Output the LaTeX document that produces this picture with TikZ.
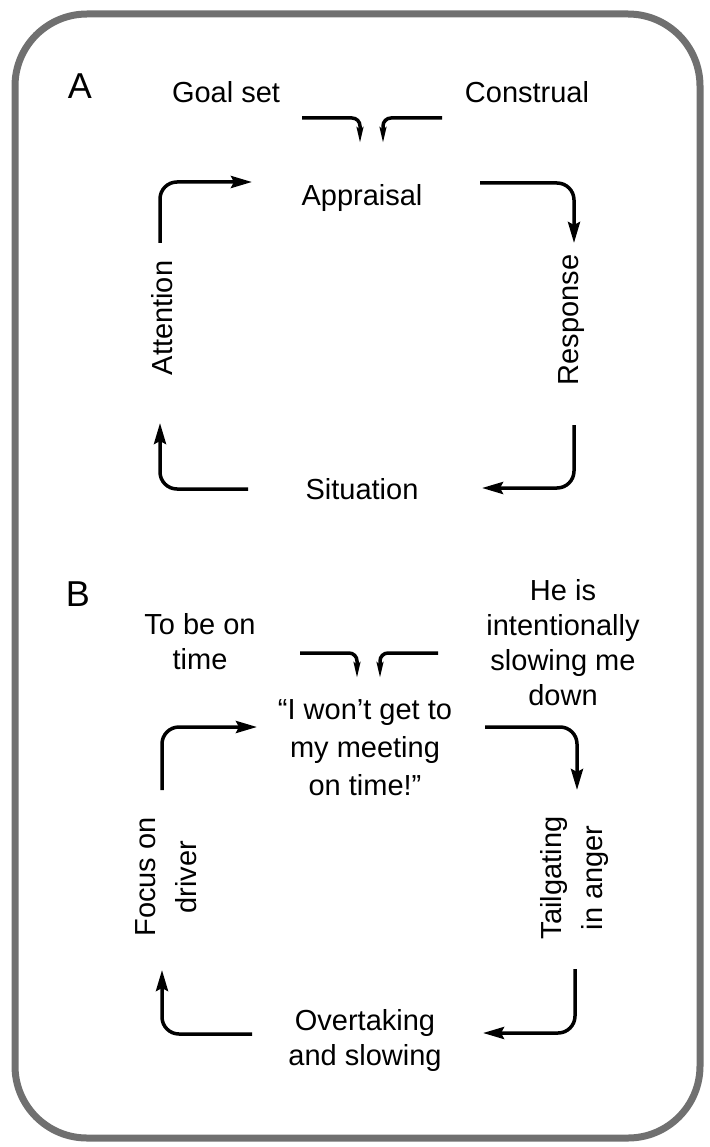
\documentclass[tikz,border=0pt]{standalone}
\usepackage{fontspec}
\setmainfont{Liberation Sans}
\usetikzlibrary{arrows.meta}
\definecolor{framegray}{HTML}{707070}
\tikzstyle{txt}=[font=\fontsize{29}{35}\selectfont, align=center, inner sep=0pt]
\tikzstyle{sidetxt}=[font=\fontsize{29}{41}\selectfont, align=center, inner sep=0pt, rotate=90]
\tikzstyle{panel}=[font=\fontsize{36}{40}\selectfont, inner sep=0pt]
\tikzstyle{loopedge}=[draw, line width=3.5pt, rounded corners=17pt, -{Stealth[length=21pt,width=12pt,inset=3pt]}]
\tikzstyle{feededge}=[draw, line width=3.5pt, rounded corners=8pt, -{Stealth[length=16pt,width=6pt,inset=2pt]}]
\begin{document}
\begin{tikzpicture}[x=1pt,y=-1pt]
  \useasboundingbox (0,0) rectangle (709,1147);
  \draw[framegray, line width=7pt, rounded corners=72pt] (15,14) rectangle (700,1138);

    % Panel A: the generic cycle
    % First we draw the labels
    \node[panel] (pA) at (80,86) {A};
    \foreach \pos/\name/\text in {{(226,92)/goal/Goal set}, {(527,92)/constr/Construal}, {(362,198)/appr/Appraisal}, {(362,489)/situ/Situation}}
        \node[txt] (\name) at \pos {\text};
    \foreach \pos/\name/\text in {{(162,318)/attn/Attention}, {(572,320)/resp/Response}}
        \node[sidetxt] (\name) at \pos {\text};

    % Then the free ends of the arrows
    \foreach \pos/\name in {{(302,118)/goalS}, {(360,144)/goalE}, {(442,118)/constrS}, {(383,144)/constrE}, {(160,243)/attnS}, {(252,182)/attnE}, {(480,183)/apprS}, {(574,243)/apprE}, {(574,425)/respS}, {(482,488)/respE}, {(248,489)/situS}, {(160,423)/situE}}
        \node[coordinate] (\name) at \pos {};

    % Connect them
    \foreach \source/\dest in {goalS/goalE, constrS/constrE}
        \path[feededge] (\source) -| (\dest);
    \foreach \source/\dest in {attnS/attnE, respS/respE}
        \path[loopedge] (\source) |- (\dest);
    \foreach \source/\dest in {apprS/apprE, situS/situE}
        \path[loopedge] (\source) -| (\dest);

    % Panel B: the driving example
    \node[panel] (pB) at (78,594) {B};
    \foreach \pos/\name/\text in {{(200,642)/ontime/To be on\\time}, {(563,643)/intent/He is\\intentionally\\slowing me\\down}, {(365,1040)/overt/Overtaking\\and slowing}}
        \node[txt] (\name) at \pos {\text};
    \node[txt, font=\fontsize{29}{38}\selectfont] (thought) at (365,748) {“I won’t get to\\my meeting\\on time!”};
    \foreach \pos/\name/\text in {{(166,877)/focus/Focus on\\driver}, {(574,878)/tail/Tailgating\\in anger}}
        \node[sidetxt] (\name) at \pos {\text};

    \foreach \pos/\name in {{(300,653)/ontimeS}, {(357,679)/ontimeE}, {(438,653)/intentS}, {(380,679)/intentE}, {(162,790)/focusS}, {(257,727)/focusE}, {(485,727)/thoughtS}, {(577,790)/thoughtE}, {(575,969)/tailS}, {(483,1033)/tailE}, {(252,1034)/overtS}, {(162,970)/overtE}}
        \node[coordinate] (\name) at \pos {};

    \foreach \source/\dest in {ontimeS/ontimeE, intentS/intentE}
        \path[feededge] (\source) -| (\dest);
    \foreach \source/\dest in {focusS/focusE, tailS/tailE}
        \path[loopedge] (\source) |- (\dest);
    \foreach \source/\dest in {thoughtS/thoughtE, overtS/overtE}
        \path[loopedge] (\source) -| (\dest);

\end{tikzpicture}
\end{document}
